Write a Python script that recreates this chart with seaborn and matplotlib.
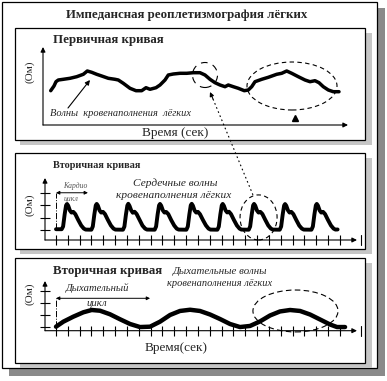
import matplotlib
matplotlib.use("Agg")
import matplotlib.pyplot as plt
import seaborn as sns
import pandas as pd
from matplotlib.patches import Rectangle, Ellipse

# ---------------- data ----------------
# Panel 1: primary curve (time units, Ohm units)
primary_time = [0.77, 1.10, 1.30, 1.53, 2.03, 2.70, 3.37, 4.03, 4.43, 4.87, 5.37, 5.87,
                6.53, 7.20, 7.53, 8.03, 8.70, 9.30, 9.87, 10.30, 10.70, 11.30, 11.70,
                12.20, 12.53, 13.03, 13.70, 14.37, 15.03, 15.70, 16.20, 16.70, 17.20,
                17.70, 18.20, 18.53, 19.03, 19.53, 20.13, 20.53, 20.87, 21.20, 21.87,
                22.53, 23.37, 23.87, 24.37, 24.87, 25.53, 26.20, 26.70, 27.20, 27.60,
                28.03, 28.53, 29.03, 29.60]
primary_value = [3.43, 3.90, 4.33, 4.50, 4.57, 4.67, 4.83, 5.07, 5.40, 5.27, 5.07, 4.90,
                 4.67, 4.57, 4.50, 4.17, 3.67, 3.43, 3.43, 3.73, 3.57, 3.73, 4.00,
                 4.50, 5.00, 5.10, 5.17, 5.17, 5.23, 5.23, 5.00, 4.57, 4.23,
                 4.00, 3.83, 4.00, 3.83, 3.67, 3.43, 3.50, 3.83, 4.33, 4.57,
                 4.77, 5.07, 5.17, 5.40, 5.17, 4.83, 4.50, 4.33, 4.43, 4.23,
                 3.83, 3.50, 3.33, 3.33]

# Panel 2: cardiac waves (tick units)
cardio_time = [0.00, 0.48, 0.60, 0.73, 0.85, 0.93, 1.03, 1.17, 1.31, 1.46, 1.63, 1.88, 2.13, 2.35, 2.51,
               2.99, 3.11, 3.24, 3.36, 3.44, 3.54, 3.68, 3.82, 3.97, 4.14, 4.39, 4.64, 4.86, 5.02,
               5.66, 5.78, 5.91, 6.03, 6.11, 6.21, 6.35, 6.49, 6.64, 6.81, 7.06, 7.31, 7.53, 7.69,
               8.34, 8.46, 8.59, 8.71, 8.79, 8.89, 9.03, 9.17, 9.32, 9.49, 9.74, 9.99, 10.21, 10.37,
               11.02, 11.14, 11.27, 11.39, 11.47, 11.57, 11.71, 11.85, 12.00, 12.17, 12.42, 12.67, 12.89, 13.05,
               13.64, 13.76, 13.89, 14.01, 14.09, 14.19, 14.33, 14.47, 14.62, 14.79, 15.04, 15.29, 15.51, 15.67,
               16.29, 16.41, 16.54, 16.66, 16.74, 16.84, 16.98, 17.12, 17.27, 17.44, 17.69, 17.94, 18.16, 18.32,
               18.91, 19.03, 19.16, 19.28, 19.36, 19.46, 19.60, 19.74, 19.89, 20.06, 20.31, 20.56, 20.78, 20.94,
               21.59, 21.71, 21.84, 21.96, 22.04, 22.14, 22.28, 22.42, 22.57, 22.74, 22.99, 23.24, 23.46, 23.62,
               23.80]
cardio_value = [0.06, 0.06, 0.28, 1.25, 1.98, 2.10, 1.96, 1.58, 1.40, 1.46, 1.28, 0.80, 0.36, 0.11, 0.03,
                0.02, 0.28, 1.25, 1.98, 2.10, 1.96, 1.58, 1.40, 1.46, 1.28, 0.80, 0.36, 0.11, 0.03,
                0.02, 0.27, 1.24, 1.97, 2.11, 1.95, 1.59, 1.39, 1.47, 1.29, 0.81, 0.35, 0.11, 0.03,
                0.02, 0.28, 1.26, 1.98, 2.10, 1.96, 1.58, 1.40, 1.45, 1.28, 0.79, 0.36, 0.10, 0.03,
                0.02, 0.28, 1.25, 1.99, 2.11, 1.96, 1.57, 1.40, 1.46, 1.27, 0.80, 0.37, 0.11, 0.03,
                0.02, 0.27, 1.25, 1.98, 2.10, 1.95, 1.58, 1.41, 1.47, 1.28, 0.80, 0.36, 0.11, 0.03,
                0.02, 0.28, 1.24, 1.98, 2.10, 1.96, 1.58, 1.40, 1.46, 1.29, 0.81, 0.36, 0.11, 0.03,
                0.02, 0.28, 1.25, 1.97, 2.09, 1.96, 1.59, 1.40, 1.46, 1.28, 0.80, 0.35, 0.11, 0.03,
                0.02, 0.28, 1.25, 1.98, 2.10, 1.96, 1.58, 1.40, 1.46, 1.28, 0.80, 0.36, 0.11, 0.03,
                0.04]

# Panel 3: respiratory waves (tick units)
resp_time = [0.00, 0.62, 1.46, 2.31, 3.02, 3.72, 4.56, 5.41, 6.26, 7.10, 7.95, 8.79,
             9.64, 10.48, 11.33, 12.17, 13.02, 13.86, 14.71, 15.55, 16.40, 17.24,
             18.09, 18.93, 19.78, 20.63, 21.47, 22.32, 23.16, 23.75, 24.43]
resp_value = [0.05, 0.46, 0.87, 1.23, 1.42, 1.36, 1.07, 0.66, 0.27, 0.02, 0.05, 0.46,
              1.01, 1.34, 1.44, 1.34, 1.05, 0.68, 0.27, 0.02, 0.11, 0.48,
              0.97, 1.30, 1.42, 1.34, 1.05, 0.64, 0.23, 0.02, 0.02]

x_ticks = list(range(25))
y_ticks = [0, 1, 2, 3]

title = "Импедансная реоплетизмография лёгких"
panel_titles = ["Первичная кривая", "Вторичная кривая", "Вторичная кривая"]
ylabel = "(Ом)"
xlabel1 = "Время (сек)"
xlabel3 = "Время(сек)"

# ---------------- style ----------------
sns.set_style("white")
plt.rcParams["font.family"] = ["Liberation Serif", "DejaVu Serif"]

W, H = 387, 381
fig = plt.figure(figsize=(W / 100, H / 100), dpi=100)
fig.patch.set_facecolor("white")


def frac(x0, y0, x1, y1):
    return [x0 / W, 1 - y1 / H, (x1 - x0) / W, (y1 - y0) / H]


bg = fig.add_axes([0, 0, 1, 1])
bg.set_xlim(0, W)
bg.set_ylim(H, 0)
bg.axis("off")

# outer frame with shadow
bg.add_patch(Rectangle((9, 8), 376, 368, fc="#8a8a8a", ec="none"))
bg.add_patch(Rectangle((2, 2), 375, 366, fc="white", ec="black", lw=0.9))
for (y0, y1) in [(28, 140), (153, 249), (258, 363)]:
    bg.add_patch(Rectangle((20, y0 + 5), 352, y1 - y0, fc="#c6c6c6", ec="none"))
    bg.add_patch(Rectangle((15, y0), 350, y1 - y0, fc="white", ec="black", lw=0.9))


def make_axes(x0, y0, x1, y1, xlim, ylim, ticks):
    ax = fig.add_axes(frac(x0, y0, x1, y1))
    ax.set_xlim(*xlim)
    ax.set_ylim(*ylim)
    ax.patch.set_alpha(0)
    for s in ax.spines.values():
        s.set_visible(False)
    ap = dict(arrowstyle="-|>", color="k", lw=0.8, mutation_scale=7,
              shrinkA=0, shrinkB=0)
    ax.annotate("", xy=(1, 0), xytext=(0, 0), xycoords="axes fraction", arrowprops=ap)
    ax.annotate("", xy=(0, 1), xytext=(0, 0), xycoords="axes fraction", arrowprops=ap)
    if ticks:
        ax.set_xticks(x_ticks)
        ax.set_yticks(y_ticks)
        ax.tick_params(direction="inout", length=7, width=0.8, color="k",
                       bottom=True, left=True, labelbottom=False, labelleft=False)
    else:
        ax.set_xticks([])
        ax.set_yticks([])
    return ax


# Panel 1
ax1 = make_axes(43, 47, 348, 125, (0, 30.5), (0, 7.8), False)
sns.lineplot(x=primary_time, y=primary_value, ax=ax1, color="black", lw=2.5,
             estimator=None, sort=False)
ax1.add_patch(Ellipse((24.9, 3.9), 9.0, 4.8, fill=False, ec="k", lw=0.8,
                      ls=(0, (4, 3)), clip_on=False))
ax1.add_patch(Ellipse((16.2, 5.0), 2.5, 2.5, fill=False, ec="k", lw=0.8,
                      ls=(0, (6, 5)), clip_on=False))
ax1.set_xlabel("")
ax1.set_ylabel("")

# Panel 2
ax2 = make_axes(45, 178, 357, 240, (-0.93, 25.44), (-0.81, 4.19), True)
sns.lineplot(x=cardio_time, y=cardio_value, ax=ax2, color="black", lw=2.8,
             estimator=None, sort=False)
ax2.add_patch(Ellipse((17.12, 1.01), 3.13, 3.63, fill=False, ec="k", lw=0.8,
                      ls=(0, (4, 3)), clip_on=False))
ax2.plot([0, 0], [0.05, 3.0], color="k", lw=0.7, ls="-.")
ax2.annotate("", xy=(0, 3.0), xytext=(2.7, 3.0),
             arrowprops=dict(arrowstyle="<|-|>", color="k", lw=0.7, mutation_scale=5,
                             shrinkA=0, shrinkB=0))
ax2.set_xlabel("")
ax2.set_ylabel("")

# Panel 3
ax3 = make_axes(45, 281, 357, 330.7, (-0.93, 25.44), (-0.28, 3.80), True)
sns.lineplot(x=resp_time, y=resp_value, ax=ax3, color="black", lw=3.2,
             estimator=None, sort=False)
ax3.add_patch(Ellipse((20.24, 1.34), 7.19, 3.44, fill=False, ec="k", lw=0.8,
                      ls=(0, (5, 3)), clip_on=False))
ax3.plot([0, 0], [0.05, 2.38], color="k", lw=0.7, ls="-.")
ax3.annotate("", xy=(0, 2.38), xytext=(7.95, 2.38),
             arrowprops=dict(arrowstyle="<|-|>", color="k", lw=0.7, mutation_scale=5,
                             shrinkA=0, shrinkB=0))
ax3.set_xlabel("")
ax3.set_ylabel("")

# ---------------- overlay: texts and connectors ----------------
ov = fig.add_axes([0, 0, 1, 1], zorder=5)
ov.set_xlim(0, W)
ov.set_ylim(H, 0)
ov.axis("off")
ov.patch.set_alpha(0)

ov.text(187, 15, title, ha="center", va="center", fontsize=9.3, fontweight="bold")
ov.text(53, 40, panel_titles[0], ha="left", va="center", fontsize=9.3, fontweight="bold")
ov.text(53, 165, panel_titles[1], ha="left", va="center", fontsize=7.4, fontweight="bold")
ov.text(53, 271, panel_titles[2], ha="left", va="center", fontsize=9.3, fontweight="bold")

for (x, y) in [(30, 72), (29.5, 205), (29.5, 294)]:
    ov.text(x, y, ylabel, ha="center", va="center", rotation=90, fontsize=8)

ov.text(175, 133, xlabel1, ha="center", va="center", fontsize=9.5)
ov.text(176, 348, xlabel3, ha="center", va="center", fontsize=9.5)

ov.text(50, 113, "Волны  кровенаполнения  лёгких", ha="left", va="center",
        fontsize=7.5, style="italic")
ov.text(175, 183, "Сердечные волны", ha="center", va="center", fontsize=8.2, style="italic")
ov.text(174, 195, "кровенаполнения лёгких", ha="center", va="center", fontsize=8.2,
        style="italic")
ov.text(220, 272, "Дыхательные волны", ha="center", va="center", fontsize=7.8, style="italic")
ov.text(220, 283, "кровенаполнения лёгких", ha="center", va="center", fontsize=7.5,
        style="italic")
ov.text(98, 288, "Дыхательный", ha="center", va="center", fontsize=7.7, style="italic")
ov.text(97, 303, "цикл", ha="center", va="center", fontsize=7.7, style="italic")
ov.text(75, 186, "Кардио", ha="center", va="center", fontsize=5.5, style="italic",
        color="#555555")
ov.text(71, 199, "цикл", ha="center", va="center", fontsize=5.5, style="italic",
        color="#555555")

# pointer arrow in panel 1
ov.annotate("", xy=(90, 80), xytext=(68, 108),
            arrowprops=dict(arrowstyle="-|>", color="k", lw=0.8, mutation_scale=7,
                            shrinkA=0, shrinkB=0))
# dotted connector from panel 2 circle to panel 1 circle
ov.plot([213, 253], [99, 195], color="k", lw=0.8, ls=(0, (1.5, 2.5)))
ov.annotate("", xy=(210, 92), xytext=(213, 99),
            arrowprops=dict(arrowstyle="-|>", color="k", lw=0.8, mutation_scale=6,
                            shrinkA=0, shrinkB=0))
# small caret under the large ellipse
ov.plot([295], [118], marker="^", ms=4, color="k")
# end bars on x axes of panels 2 and 3
ov.plot([361, 361], [235, 245], color="k", lw=0.8)
ov.plot([361, 361], [326, 336], color="k", lw=0.8)

fig.savefig("out.png", dpi=100)
